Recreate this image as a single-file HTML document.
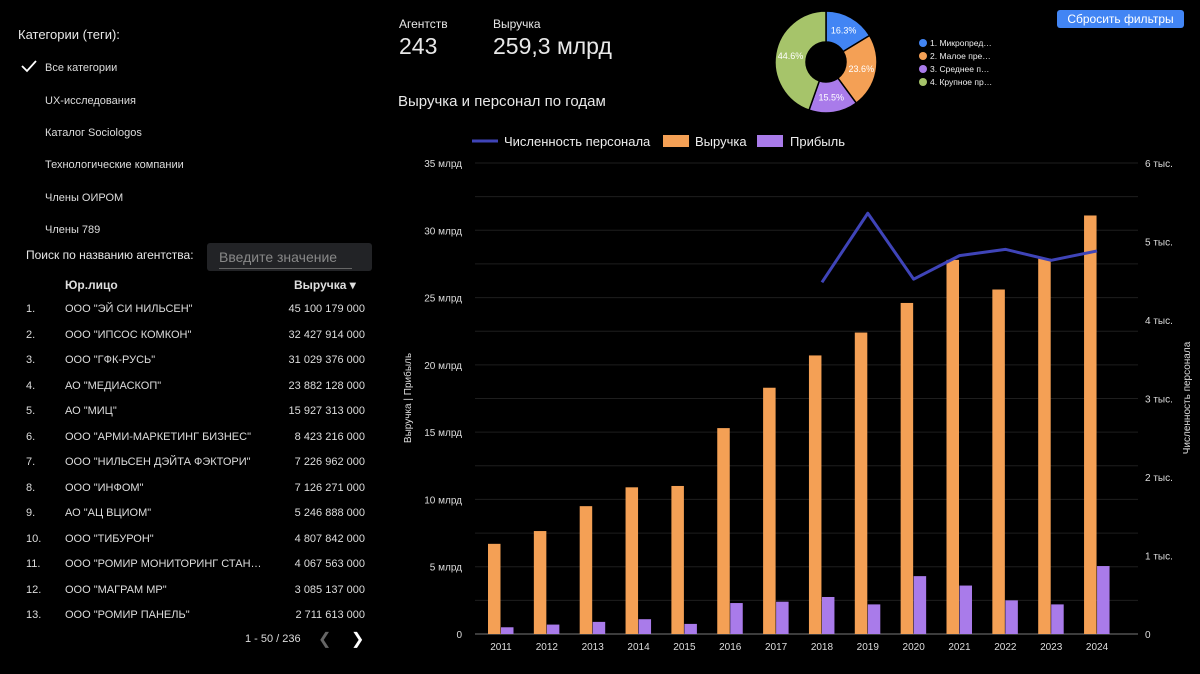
<!DOCTYPE html>
<html><head><meta charset="utf-8">
<style>
body{margin:0;width:1200px;height:674px;background:#000;color:#e8e8e8;font-family:"Liberation Sans",sans-serif;overflow:hidden;position:relative}
.abs{position:absolute}
.cat{position:absolute;left:45px;font-size:11px;color:#ddd}
.row{position:absolute;font-size:11px;color:#ddd;white-space:nowrap}
</style></head><body>
<div class="abs" style="left:18px;top:27px;font-size:13px">Категории (теги):</div>
<svg class="abs" style="left:20px;top:59px" width="18" height="14"><path d="M2 7 L7 12 L16 2" stroke="#fff" stroke-width="1.8" fill="none"/></svg>
<div class="cat" style="top:62px">Все категории</div>
<div class="cat" style="top:95px">UX-исследования</div>
<div class="cat" style="top:127px">Каталог Sociologos</div>
<div class="cat" style="top:159px">Технологические компании</div>
<div class="cat" style="top:192px">Члены ОИРОМ</div>
<div class="cat" style="top:224px">Члены 789</div>
<div class="abs" style="left:26px;top:248px;font-size:12px">Поиск по названию агентства:</div>
<div class="abs" style="left:207px;top:243px;width:165px;height:28px;background:#222326;border-radius:3px">
<div style="position:absolute;left:12px;top:6px;font-size:14px;color:#888">Введите значение</div>
<div style="position:absolute;left:12px;right:20px;bottom:2px;height:1px;background:#666"></div></div>
<div class="row" style="left:65px;top:278px;font-weight:bold;font-size:12px">Юр.лицо</div>
<div class="row" style="left:294px;top:278px;font-weight:bold;font-size:12px">Выручка ▾</div>
<div id="tbl"></div>
<div class="row" style="left:245px;top:633px">1 - 50 / 236</div>
<div class="row" style="left:318px;top:629px;font-size:16px;color:#666">&#10094;</div>
<div class="row" style="left:351px;top:629px;font-size:16px;color:#fff">&#10095;</div>

<div class="abs" style="left:399px;top:17px;font-size:12px">Агентств</div>
<div class="abs" style="left:399px;top:33px;font-size:23px">243</div>
<div class="abs" style="left:493px;top:17px;font-size:12px">Выручка</div>
<div class="abs" style="left:493px;top:33px;font-size:23px">259,3 млрд</div>
<div class="abs" style="left:398px;top:93px;font-size:15px">Выручка и персонал по годам</div>
<div class="abs" style="left:1057px;top:10px;width:127px;height:18px;background:#4285f4;border-radius:3px;color:#fff;font-size:12px;text-align:center;line-height:18px">Сбросить фильтры</div>

<svg class="abs" style="left:0;top:0" width="1200" height="674" id="svg"></svg>
<script>
const names=['ООО "ЭЙ СИ НИЛЬСЕН"','ООО "ИПСОС КОМКОН"','ООО "ГФК-РУСЬ"','АО "МЕДИАСКОП"','АО "МИЦ"','ООО "АРМИ-МАРКЕТИНГ БИЗНЕС"','ООО "НИЛЬСЕН ДЭЙТА ФЭКТОРИ"','ООО "ИНФОМ"','АО "АЦ ВЦИОМ"','ООО "ТИБУРОН"','ООО "РОМИР МОНИТОРИНГ СТАН…','ООО "МАГРАМ МР"','ООО "РОМИР ПАНЕЛЬ"'];
const revs=['45 100 179 000','32 427 914 000','31 029 376 000','23 882 128 000','15 927 313 000','8 423 216 000','7 226 962 000','7 126 271 000','5 246 888 000','4 807 842 000','4 067 563 000','3 085 137 000','2 711 613 000'];
const tbl=document.getElementById('tbl');
names.forEach((n,i)=>{const y=303+i*25.5;
 const a=document.createElement('div');a.className='row';a.style.cssText=`left:26px;top:${y}px`;a.textContent=(i+1)+'.';
 
 
 const b=document.createElement('div');b.className='row';b.style.cssText=`left:65px;top:${y}px`;b.textContent=n;
 
 
 const c=document.createElement('div');c.className='row';c.style.cssText=`right:835px;top:${y}px`;c.textContent=revs[i];
 
 
 tbl.append(a,b,c);});

const years=['2011','2012','2013','2014','2015','2016','2017','2018','2019','2020','2021','2022','2023','2024'];
const revenue=[6.7,7.65,9.5,10.9,11.0,15.3,18.3,20.7,22.4,24.6,27.8,25.6,27.9,31.1];
const profit=[0.5,0.7,0.9,1.1,0.75,2.3,2.4,2.75,2.2,4.3,3.6,2.5,2.2,5.05];
const staff=[null,null,null,null,null,null,null,4.48,5.36,4.52,4.82,4.9,4.76,4.88];
const leftTicks=[0,5,10,15,20,25,30,35];
const rightTicks=[0,1,2,3,4,5,6];
const pieLabels=['1. Микропред…','2. Малое пре…','3. Среднее п…','4. Крупное пр…'];
const pieVals=[16.3,23.6,15.5,44.6];
const pieColors=['#4285f4','#f4a055','#a97bea','#a6c46a'];

const NS='http://www.w3.org/2000/svg',svg=document.getElementById('svg');
function el(t,a,txt){const e=document.createElementNS(NS,t);for(const k in a)e.setAttribute(k,a[k]);if(txt!=null)e.textContent=txt;svg.appendChild(e);return e;}
const y0=634,yTop=163,x0=475,x1=1138;
const yL=v=>y0-(v/35)*(y0-yTop), yR=v=>y0-(v/6)*(y0-yTop);
const xC=i=>501+i*45.85;
for(let v=2.5;v<=35;v+=2.5){const g=el('line',{x1:x0,x2:x1,y1:yL(v),y2:yL(v),stroke:'#1e1e1e','stroke-width':1});
 
 }
const ax=el('line',{x1:x0,x2:x1,y1:y0,y2:y0,stroke:'#777','stroke-width':1});


leftTicks.forEach(v=>{const t=el('text',{x:462,y:yL(v)+4,fill:'#ddd','font-size':10,'text-anchor':'end'},v===0?'0':v+' млрд');
 
 });
rightTicks.forEach(v=>{const t=el('text',{x:1145,y:yR(v)+4,fill:'#ddd','font-size':10},v===0?'0':v+' тыс.');
 
 });
years.forEach((y,i)=>{const t=el('text',{x:xC(i),y:650,fill:'#ddd','font-size':10,'text-anchor':'middle'},y);
 
 
 const b=el('rect',{x:xC(i)-13,y:yL(revenue[i]),width:12.5,height:y0-yL(revenue[i]),fill:'#f4a055'});
 
 
 const p=el('rect',{x:xC(i),y:yL(profit[i]),width:12.5,height:y0-yL(profit[i]),fill:'#a97bea'});
 
 });
let d='';staff.forEach((v,i)=>{if(v==null)return;d+=(d?'L':'M')+xC(i)+' '+yR(v);});
const ln=el('path',{d:d,stroke:'#3f44b8','stroke-width':3,fill:'none','stroke-linejoin':'round'});


const lt=el('text',{x:0,y:0,fill:'#ddd','font-size':10,'text-anchor':'middle',transform:'translate(411,398) rotate(-90)'},'Выручка | Прибыль');


const rt=el('text',{x:0,y:0,fill:'#ddd','font-size':10,'text-anchor':'middle',transform:'translate(1190,398) rotate(-90)'},'Численность персонала');


// legend
const l1=el('line',{x1:472,x2:498,y1:141,y2:141,stroke:'#3f44b8','stroke-width':3});


const t1=el('text',{x:504,y:146,fill:'#eee','font-size':13},'Численность персонала');


const l2=el('rect',{x:663,y:135,width:26,height:12,fill:'#f4a055'});


const t2=el('text',{x:695,y:146,fill:'#eee','font-size':13},'Выручка');


const l3=el('rect',{x:757,y:135,width:26,height:12,fill:'#a97bea'});


const t3=el('text',{x:790,y:146,fill:'#eee','font-size':13},'Прибыль');


// donut
const cx=826,cy=62,R=51,r=20,tot=pieVals.reduce((a,b)=>a+b,0);let a0=-Math.PI/2;
pieVals.forEach((v,i)=>{const a1=a0+v/tot*2*Math.PI,lg=(a1-a0)>Math.PI?1:0;
 const P=(rad,a)=>[cx+rad*Math.cos(a),cy+rad*Math.sin(a)];
 const [x1_,y1_]=P(R,a0),[x2_,y2_]=P(R,a1),[x3,y3]=P(r,a1),[x4,y4]=P(r,a0);
 const s=el('path',{d:`M${x1_} ${y1_}A${R} ${R} 0 ${lg} 1 ${x2_} ${y2_}L${x3} ${y3}A${r} ${r} 0 ${lg} 0 ${x4} ${y4}Z`,fill:pieColors[i],stroke:'#000','stroke-width':1.5});
 
 
 const m=(a0+a1)/2,[tx,ty]=P(36,m);
 const t=el('text',{x:tx,y:ty+3,fill:'#fff','font-size':9,'text-anchor':'middle'},v.toFixed(1)+'%');
 
 
 const dot=el('circle',{cx:923,cy:43+i*13,r:4,fill:pieColors[i]});
 
 
 const lt2=el('text',{x:930,y:46+i*13,fill:'#eee','font-size':8.5},pieLabels[i]);
 
 
 a0=a1;});
</script>
</body></html>
